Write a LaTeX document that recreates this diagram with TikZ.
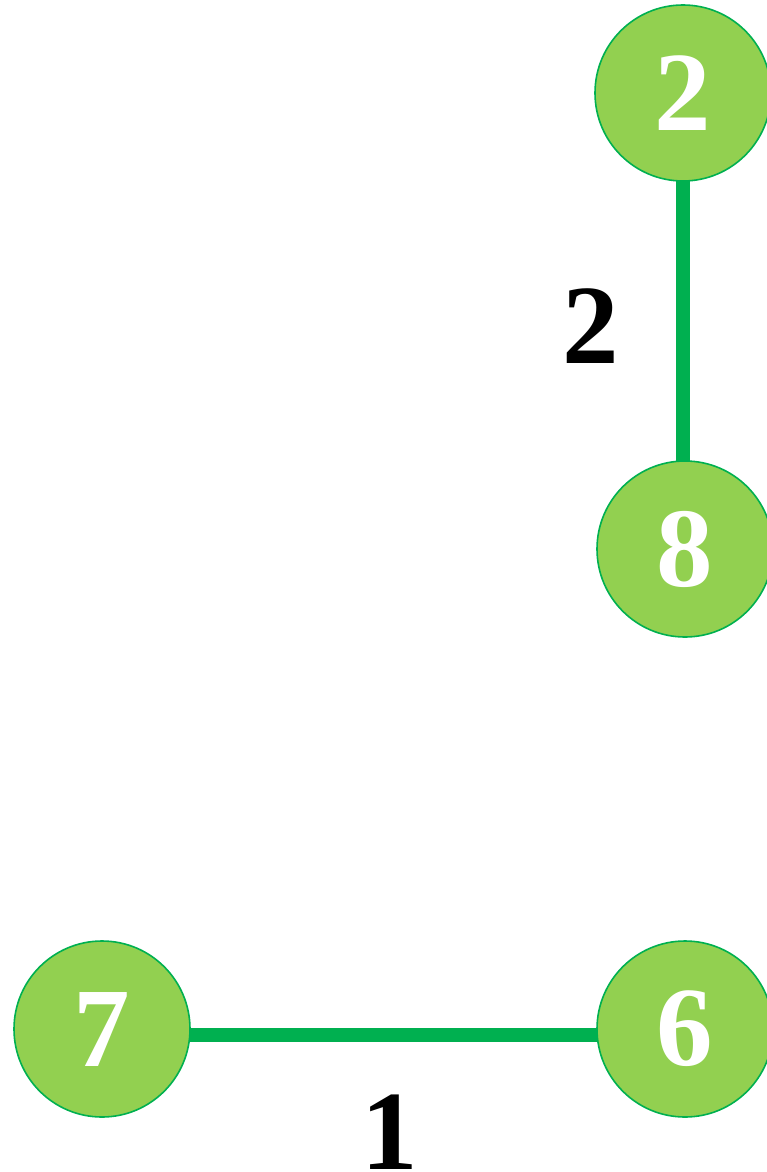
\documentclass[tikz,border=0pt]{standalone}
\usepackage{fontspec}
\setmainfont{Liberation Serif}
\definecolor{nodefill}{HTML}{92D050}
\definecolor{edgegreen}{HTML}{00B050}
\begin{document}
\begin{tikzpicture}[x=1pt,y=-1pt,
  vertex/.style={circle, draw=edgegreen, line width=1.6pt, fill=nodefill, minimum size=176pt, inner sep=0pt, text=white, font=\fontsize{113}{113}\selectfont\bfseries},
  edge/.style={draw=edgegreen, line width=14pt},
  weight/.style={text=black, inner sep=0pt, font=\fontsize{113}{113}\selectfont\bfseries}]
\useasboundingbox (0,0) rectangle (767,1172);
\draw[edge] (683,93) -- (683,549);
\draw[edge] (102,1035) -- (685,1035);
\node[vertex] (n2) at (683,93) {2};
\node[vertex] (n8) at (685,549) {8};
\node[vertex] (n7) at (102,1029) {7};
\node[vertex] (n6) at (685,1029) {6};
\node[weight] (w2) at (591,326) {2};
\node[weight] (w1) at (390,1132) {1};
\end{tikzpicture}
\end{document}
